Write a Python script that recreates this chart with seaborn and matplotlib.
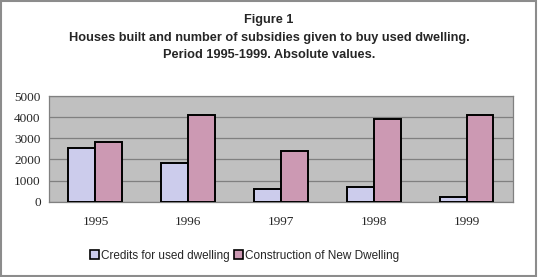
import matplotlib
matplotlib.use("Agg")
import matplotlib.pyplot as plt
from matplotlib.patches import Rectangle
import seaborn as sns
import pandas as pd

# data
years = ["1995", "1996", "1997", "1998", "1999"]
credits_used = [2530, 1840, 580, 680, 240]
construction_new = [2820, 4110, 2400, 3930, 4100]
series_names = ["Credits for used dwelling", "Construction of New Dwelling"]
y_ticks = [0, 1000, 2000, 3000, 4000, 5000]

COL_CREDIT = "#CCCCEC"
COL_NEW = "#CC99B3"

df = pd.DataFrame({
    "year": years * 2,
    "value": credits_used + construction_new,
    "series": [series_names[0]] * len(years) + [series_names[1]] * len(years),
})

sns.set_style("white")
plt.rcParams["font.family"] = ["Liberation Sans", "DejaVu Sans"]

fig = plt.figure(figsize=(5.38, 2.77), dpi=100)
ax = fig.add_axes([0.0911, 0.2718, 0.8624, 0.3816])
ax.set_facecolor("#C0C0C0")

sns.barplot(data=df, x="year", y="value", hue="series", order=years,
            hue_order=series_names, palette=[COL_CREDIT, COL_NEW],
            width=0.58, gap=0, edgecolor="black", linewidth=1.4,
            saturation=1, ax=ax, legend=False, zorder=3)

ax.set_ylim(0, 5000)
ax.set_xlim(-0.5, len(years) - 0.5)
ax.set_yticks(y_ticks)
ax.yaxis.grid(True, color="#808080", linewidth=0.9, zorder=0)
ax.set_axisbelow(True)
ax.set_xlabel("")
ax.set_ylabel("")

# ticks between categories, like the spreadsheet chart
ax.set_xticks([i + 0.5 for i in range(-1, len(years))], minor=True)
ax.tick_params(axis="x", which="major", length=0, pad=10)
ax.tick_params(axis="x", which="minor", length=4, color="#808080", width=0.8)
ax.tick_params(axis="y", length=4, color="#808080", width=0.8, pad=2)
for lab in ax.get_xticklabels() + ax.get_yticklabels():
    lab.set_family(["Liberation Serif", "DejaVu Serif"])
    lab.set_fontsize(9.5)

for side in ["top", "right", "left", "bottom"]:
    ax.spines[side].set_color("#808080")
    ax.spines[side].set_linewidth(0.9)

fig.text(0.5, 0.928, "Figure 1", ha="center", va="center",
         fontsize=9.2, fontweight="bold")
fig.text(0.5, 0.862, "Houses built and number of subsidies given to buy used dwelling.",
         ha="center", va="center", fontsize=9.2, fontweight="bold")
fig.text(0.5, 0.803, "Period 1995-1999. Absolute values.",
         ha="center", va="center", fontsize=9.2, fontweight="bold")

handles = [Rectangle((0, 0), 1, 1, facecolor=c, edgecolor="black", linewidth=1.2)
           for c in (COL_CREDIT, COL_NEW)]
fig.legend(handles, series_names, loc="center", bbox_to_anchor=(0.455, 0.077),
           ncol=2, frameon=False, fontsize=8.5, handlelength=0.7, handleheight=0.7,
           handletextpad=0.2, columnspacing=0.4, borderaxespad=0)

fig.add_artist(Rectangle((0.002, 0.004), 0.995, 0.992, transform=fig.transFigure,
                         fill=False, edgecolor="#8C8C8C", linewidth=1.5))

fig.savefig("out.png", dpi=100)
